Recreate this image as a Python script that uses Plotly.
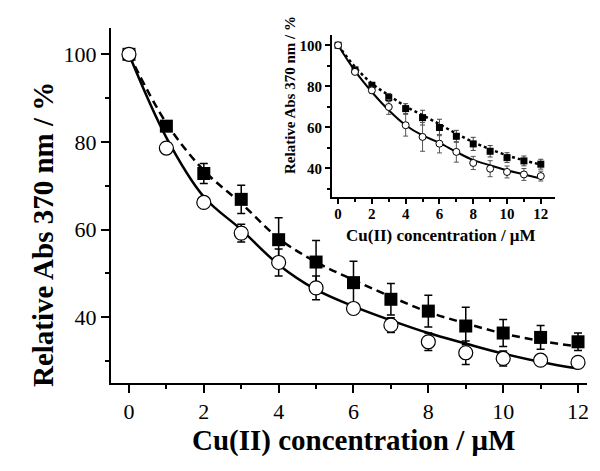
import plotly.graph_objects as go

# ---------------- data: main plot ----------------
conc = [0, 1, 2, 3, 4, 5, 6, 7, 8, 9, 10, 11, 12]
sq_main = [100, 83.6, 72.8, 66.9, 57.7, 52.6, 47.9, 44.1, 41.4, 38.0, 36.4, 35.4, 34.4]
sq_main_err = [0, 1.0, 2.3, 3.2, 5.0, 4.9, 4.9, 3.6, 3.6, 4.3, 3.1, 2.7, 2.0]
ci_main = [100, 78.6, 66.2, 59.2, 52.5, 46.7, 42.0, 38.2, 34.4, 31.9, 30.6, 30.2, 29.7]
ci_main_err = [0, 0.6, 0.8, 2.0, 3.1, 2.7, 1.2, 1.7, 2.0, 2.7, 1.7, 1.0, 0.8]
fit_dash_main = [100, 84.3, 73.5, 66.0, 58.0, 52.6, 48.5, 44.7, 41.2, 38.6, 36.3, 34.6, 33.3]
fit_solid_main = [100, 81.0, 67.5, 60.0, 52.0, 46.3, 42.5, 39.3, 36.4, 34.0, 31.7, 29.8, 28.3]

# ---------------- data: inset ----------------
sq_ins = [100, 88.0, 80.5, 74.5, 69.1, 64.7, 59.9, 55.6, 51.9, 48.3, 45.2, 43.6, 42.0]
sq_ins_err = [0, 1.0, 1.2, 2.0, 2.4, 3.6, 4.0, 2.9, 3.2, 2.8, 2.4, 2.4, 2.4]
ci_ins = [100, 87.0, 78.0, 69.9, 61.0, 55.3, 52.0, 48.0, 42.6, 39.8, 38.2, 37.0, 36.2]
ci_ins_err = [0, 1.0, 1.5, 3.6, 5.3, 7.0, 4.5, 5.0, 3.2, 3.9, 2.9, 2.9, 2.4]
fit_dot_ins = [100, 89.5, 81.3, 75.6, 70.2, 65.9, 61.5, 56.9, 52.8, 49.3, 46.3, 43.9, 41.8]
fit_solid_ins = [100, 87.5, 77.2, 68.3, 61.0, 56.0, 52.4, 48.0, 44.0, 41.5, 39.0, 37.0, 35.0]

x_title = "Cu(II) concentration / \u03bcM"
y_title = "Relative Abs 370 nm / %"
FONT = "Liberation Serif"
W, H = 600, 471

fig = go.Figure()

# main fits
fig.add_trace(go.Scatter(x=conc, y=fit_dash_main, mode="lines", line=dict(color="black", width=2.5, dash="8px,5px", shape="spline"),
                         showlegend=False, xaxis="x", yaxis="y"))
fig.add_trace(go.Scatter(x=conc, y=fit_solid_main, mode="lines", line=dict(color="black", width=2.5, shape="spline"),
                         showlegend=False, xaxis="x", yaxis="y"))
# main markers
fig.add_trace(go.Scatter(x=conc, y=sq_main, mode="markers",
                         marker=dict(symbol="square", size=13, color="black"),
                         error_y=dict(type="data", array=sq_main_err, color="black", thickness=1.5, width=4),
                         showlegend=False, xaxis="x", yaxis="y"))
fig.add_trace(go.Scatter(x=conc, y=ci_main, mode="markers",
                         marker=dict(symbol="circle", size=14, color="white", line=dict(color="black", width=1.2)),
                         error_y=dict(type="data", array=ci_main_err, color="black", thickness=1.5, width=4),
                         showlegend=False, xaxis="x", yaxis="y"))

# inset fits
fig.add_trace(go.Scatter(x=conc, y=fit_dot_ins, mode="lines", line=dict(color="black", width=2.5, dash="dot", shape="spline"),
                         showlegend=False, xaxis="x2", yaxis="y2"))
fig.add_trace(go.Scatter(x=conc, y=fit_solid_ins, mode="lines", line=dict(color="black", width=2, shape="spline"),
                         showlegend=False, xaxis="x2", yaxis="y2"))
fig.add_trace(go.Scatter(x=conc, y=sq_ins, mode="markers",
                         marker=dict(symbol="square", size=7, color="black"),
                         error_y=dict(type="data", array=sq_ins_err, color="#444444", thickness=1, width=2.5),
                         showlegend=False, xaxis="x2", yaxis="y2"))
fig.add_trace(go.Scatter(x=conc, y=ci_ins, mode="markers",
                         marker=dict(symbol="circle", size=7, color="white", line=dict(color="black", width=1)),
                         error_y=dict(type="data", array=ci_ins_err, color="#555555", thickness=1, width=2.5),
                         showlegend=False, xaxis="x2", yaxis="y2"))

axis_common = dict(showline=True, linecolor="black", showgrid=False, zeroline=False,
                   ticks="outside", tickcolor="black", mirror=False, automargin=False)

def px_x(p):
    return p / W

def px_y(p):
    return 1 - p / H

fig.update_layout(
    width=W, height=H,
    margin=dict(l=0, r=0, t=0, b=0),
    paper_bgcolor="white", plot_bgcolor="rgba(0,0,0,0)",
    font=dict(family=FONT, color="black"),
    xaxis=dict(**axis_common, domain=[px_x(111), px_x(587)], range=[-0.48, 12.24],
               tickvals=[0, 2, 4, 6, 8, 10, 12], ticklen=8, tickwidth=2, linewidth=2,
               minor=dict(ticks="outside", ticklen=4, tickwidth=2, dtick=1, tick0=0, tickcolor="black"),
               tickfont=dict(size=22, family=FONT),
               anchor="y"),
    yaxis=dict(**axis_common, domain=[px_y(383), px_y(28)], range=[25, 106],
               tickvals=[40, 60, 80, 100], ticklen=8, tickwidth=2, linewidth=2,
               minor=dict(ticks="outside", ticklen=4, tickwidth=2, dtick=10, tick0=0, tickcolor="black"),
               tickfont=dict(size=22, family=FONT),
               anchor="x"),
    xaxis2=dict(**axis_common, domain=[px_x(332), px_x(555)], range=[-0.36, 12.84],
                tickvals=[0, 2, 4, 6, 8, 10, 12], ticklen=5, tickwidth=1.5, linewidth=2,
                minor=dict(ticks="outside", ticklen=3, tickwidth=1.5, dtick=1, tick0=0, tickcolor="black"),
                tickfont=dict(size=15, family=FONT, weight="bold"), ticklabelstandoff=-3,
                anchor="y2"),
    yaxis2=dict(**axis_common, domain=[px_y(197), px_y(35)], range=[26, 105],
                tickvals=[40, 60, 80, 100], ticklen=5, tickwidth=1.5, linewidth=2,
                minor=dict(ticks="outside", ticklen=3, tickwidth=1.5, dtick=10, tick0=0, tickcolor="black"),
                tickfont=dict(size=15, family=FONT, weight="bold"),
                anchor="x2"),
    annotations=[
        dict(text=x_title, x=px_x(353), y=px_y(440), xref="paper", yref="paper", showarrow=False,
             xanchor="center", yanchor="middle", font=dict(size=29, family=FONT, weight="bold")),
        dict(text=y_title, x=px_x(43), y=px_y(235), xref="paper", yref="paper", showarrow=False, textangle=-90,
             xanchor="center", yanchor="middle", font=dict(size=29, family=FONT, weight="bold")),
        dict(text=x_title, x=px_x(441), y=px_y(235), xref="paper", yref="paper", showarrow=False,
             xanchor="center", yanchor="middle", font=dict(size=17, family=FONT, weight="bold")),
        dict(text=y_title, x=px_x(290), y=px_y(95), xref="paper", yref="paper", showarrow=False, textangle=-90,
             xanchor="center", yanchor="middle", font=dict(size=15, family=FONT, weight="bold")),
    ],
)

fig.write_html("out.html", config={"displayModeBar": False},
               post_script="document.body.style.margin='0';document.body.style.padding='0';")
